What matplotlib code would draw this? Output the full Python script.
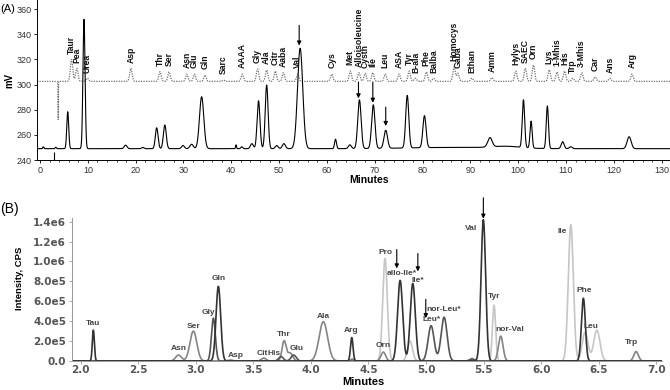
import matplotlib.pyplot as plt
import numpy as np
from matplotlib.ticker import MultipleLocator

plt.rcParams['font.family'] = 'Liberation Sans'

# ---------------- (A) ion-exchange chromatogram ----------------
# sample trace: retention time (min), apex (mV), sigma (min)
sample_rt = [0.7, 3.3, 5.8, 9.2, 17.9, 21.5, 24.4, 26.1, 29.9, 31.7, 33.8,
             41.0, 42.2, 44.3, 45.7, 47.4, 49.5, 51.0, 54.4, 61.8, 64.8,
             66.8, 69.7, 72.3, 76.8, 80.4, 94.1, 101.1, 102.7, 106.1, 109.3,
             111.0, 123.2]
sample_top = [250.5, 250.2, 278.4, 351.8, 251.8, 250.0, 265.6, 267.8, 251.5,
              252.5, 290.3, 252.0, 250.5, 253.0, 287.1, 299.6, 251.5, 253.0,
              328.8, 256.5, 252.0, 287.7, 283.7, 263.3, 290.8, 274.4, 256.4,
              286.9, 270.4, 282.9, 254.5, 250.5, 258.5]
sample_sig = [0.12, 0.12, 0.2, 0.22, 0.3, 0.25, 0.28, 0.3, 0.3, 0.35, 0.45,
              0.1, 0.2, 0.3, 0.3, 0.3, 0.3, 0.32, 0.55, 0.2, 0.3, 0.35, 0.35,
              0.37, 0.32, 0.33, 0.45, 0.25, 0.22, 0.23, 0.3, 0.3, 0.42]
sample_base = 249.0
drift_rt = [86.0, 97.5]
drift_h = [1.0, 1.5]
drift_sig = [9.0, 3.0]
inject_time = 2.9

# standard trace (dotted) with peak names
std_names = ['Taur', 'Pea', 'Urea', 'Asp', 'Thr', 'Ser', 'Asn', 'Glu', 'Gln',
             'Sarc', 'AAAA', 'Gly', 'Ala', 'Citr', 'Aaba', 'Val', 'Cys', 'Met',
             'Alloisoleucine', 'Cysth', 'Ile', 'Leu', 'ASA', 'Tyr', 'B-ala',
             'Phe', 'Balba', 'Homocys', 'Gaba', 'Ethan', 'Amm', 'Hylys', 'SAEC',
             'Orn', 'Lys', '1-Mhis', 'His', 'Trp', '3-Mhis', 'Car', 'Ans', 'Arg']
std_rt = [6.6, 7.7, 9.9, 19.0, 25.1, 27.0, 30.7, 32.3, 34.5, 38.4, 42.3, 45.5,
          47.4, 49.2, 50.9, 53.9, 61.0, 64.9, 66.7, 68.0, 69.6, 72.2, 75.1,
          77.2, 78.5, 80.8, 82.3, 86.6, 87.4, 90.3, 94.5, 99.5, 101.5, 103.2,
          106.5, 108.1, 109.7, 111.4, 113.3, 116.1, 119.2, 123.8]
std_top = [320, 312.9, 305, 312.9, 310.2, 310, 308.3, 308.3, 307.5, 303.5,
           308.3, 312.3, 311.5, 310.7, 309.4, 308.3, 308.3, 310.7, 309.4, 308.9,
           309.4, 308.3, 308.3, 310.7, 305, 310, 305, 314.1, 309, 305, 305.5,
           310.7, 312.9, 315.5, 311.7, 310, 310.7, 305, 309.4, 306, 305, 308.3]
std_base = 302.5
std_dip_rt = 3.8
std_dip_min = 272.0

# arrows in (A): x, start y, tip y
arrowsA = [(54.2, 347, 331), (66.6, 302, 289), (69.6, 302, 285.5), (72.3, 282, 267)]

# ---------------- (B) LC-MS/MS chromatogram ----------------
blk_rt = [2.110, 3.196, 4.355, 4.775, 4.885, 5.498, 6.367]
blk_top = [3.1e5, 7.5e5, 2.35e5, 8.1e5, 7.8e5, 1.42e6, 6.3e5]
blk_sig = [0.009, 0.02, 0.011, 0.022, 0.022, 0.02, 0.017]

dk_rt = [3.153, 3.74, 3.85, 5.044, 5.157, 5.40]
dk_top = [4.3e5, 0.45e5, 0.6e5, 3.55e5, 4.4e5, 0.15e5]
dk_sig = [0.017, 0.02, 0.022, 0.026, 0.026, 0.02]

mid_rt = [2.85, 2.979, 3.30, 3.59, 3.767, 3.82, 4.108, 4.36, 4.629, 5.40,
          5.649, 6.825]
mid_top = [0.6e5, 3.0e5, 0.1e5, 0.3e5, 2.0e5, 0.8e5, 3.95e5, 0.2e5, 0.9e5,
           0.25e5, 2.5e5, 0.95e5]
mid_sig = [0.025, 0.03, 0.02, 0.02, 0.018, 0.022, 0.037, 0.015, 0.02, 0.02,
           0.02, 0.02]

lt_rt = [4.644, 4.861, 5.591, 6.258, 6.382, 6.484]
lt_top = [1.03e6, 2.0e5, 5.6e5, 1.37e6, 2.9e5, 3.1e5]
lt_sig = [0.02, 0.022, 0.014, 0.022, 0.025, 0.027]

b_names = ['Tau', 'Asn', 'Ser', 'Gly', 'Gln', 'Asp', 'Cit', 'His', 'Thr', 'Glu',
           'Ala', 'Arg', 'Orn', 'Pro', 'allo-Ile*', 'Ile*', 'nor-Leu*', 'Leu*',
           'Val', 'Tyr', 'nor-Val', 'Ile', 'Phe', 'Leu', 'Trp']
b_lx = [2.11, 2.85, 2.979, 3.109, 3.202, 3.35, 3.575, 3.682, 3.767, 3.877, 4.108,
        4.349, 4.629, 4.644, 4.79, 4.928, 5.151, 5.05, 5.391, 5.594, 5.73, 6.18,
        6.376, 6.431, 6.782]
b_ly = [0.38e6, 0.13e6, 0.35e6, 0.485e6, 0.83e6, 0.053e6, 0.077e6, 0.077e6,
        0.27e6, 0.128e6, 0.445e6, 0.31e6, 0.154e6, 1.09e6, 0.88e6, 0.81e6,
        0.52e6, 0.42e6, 1.33e6, 0.646e6, 0.32e6, 1.30e6, 0.707e6, 0.35e6,
        0.184e6]
b_yticks = [0, 2e5, 4e5, 6e5, 8e5, 1e6, 1.2e6, 1.4e6]
b_yticklabels = ['0.0', '2.0e5', '4.0e5', '6.0e5', '8.0e5', '1.0e6', '1.2e6', '1.4e6']
# arrows in (B): x, start y, tip y
arrowsB = [(4.746, 1.12e6, 0.93e6), (4.929, 1.08e6, 0.90e6),
           (4.998, 0.62e6, 0.43e6), (5.498, 1.64e6, 1.43e6)]


def trace(x, rt, top, sig, base=0.0):
    y = np.full_like(x, base)
    for r, t, s in zip(rt, top, sig):
        y += (t - base) * np.exp(-0.5 * ((x - r) / s) ** 2)
    return y


fig = plt.figure(figsize=(6.7, 3.9), dpi=100)

# ---- panel A ----
axA = fig.add_axes([37 / 670, 1 - 160 / 390, 633 / 670, 160 / 390])
xa = np.linspace(-0.63, 131.75, 8000)
ya = trace(xa, sample_rt, sample_top, sample_sig, sample_base)
ya += trace(xa, drift_rt, drift_h, drift_sig)
ys = trace(xa, std_rt, std_top, [0.25] * len(std_rt), std_base)
ys += trace(xa, [std_dip_rt], [std_dip_min - std_base], [0.04])
axA.plot(xa, ys, color='#707070', lw=0.9, ls=(0, (1, 1)))
axA.plot(xa, ya, color='black', lw=0.8)
axA.vlines(inject_time, 240, 246, color='black', lw=0.8)

for name, r, t in zip(std_names, std_rt, std_top):
    axA.text(r, t + 4.5, name, rotation=90, ha='center', va='bottom',
             fontsize=6.2, fontweight='bold', color='#111111')
for x0, y0, y1 in arrowsA:
    axA.annotate('', xy=(x0, y1), xytext=(x0, y0),
                 arrowprops=dict(arrowstyle='-|>', color='black', lw=0.8,
                                 mutation_scale=6, shrinkA=0, shrinkB=0))

axA.set_xlim(-0.63, 131.75)
axA.set_ylim(240, 367.2)
axA.set_xticks(range(0, 131, 10))
axA.set_yticks(range(240, 361, 20))
axA.xaxis.set_minor_locator(MultipleLocator(2))
axA.tick_params(labelsize=6.5, labelcolor='#333333', length=2.5, width=0.6, pad=1.5)
axA.tick_params(which='minor', length=1.5, width=0.5)
axA.spines[['top', 'right']].set_visible(False)
axA.spines[['left', 'bottom']].set_linewidth(0.7)

fig.text(9 / 670, 1 - 80 / 390, 'mV', rotation=90, ha='center', va='center',
         fontsize=7, fontweight='bold')
fig.text(369 / 670, 1 - 180 / 390, 'Minutes', ha='center', va='center',
         fontsize=7.5, fontweight='bold')
fig.text(0.0, 1 - 9 / 390, '(A)', ha='left', va='center', fontsize=8)

# ---- panel B ----
axB = fig.add_axes([71.7 / 670, 1 - 361 / 390, (662 - 71.7) / 670, 143 / 390])
xb = np.linspace(1.922, 7.05, 5000)
axB.plot(xb, trace(xb, lt_rt, lt_top, lt_sig), color='#c6c6c6', lw=1.2)
axB.plot(xb, trace(xb, mid_rt, mid_top, mid_sig), color='#858585', lw=1.2)
axB.plot(xb, trace(xb, dk_rt, dk_top, dk_sig), color='#555555', lw=1.2)
axB.plot(xb, trace(xb, blk_rt, blk_top, blk_sig), color='#333333', lw=1.2)

for name, lx, ly in zip(b_names, b_lx, b_ly):
    axB.text(lx, ly, name, ha='center', va='center', fontsize=6,
             fontweight='bold', color='#444444')
for x0, y0, y1 in arrowsB:
    axB.annotate('', xy=(x0, y1), xytext=(x0, y0), annotation_clip=False,
                 arrowprops=dict(arrowstyle='-|>', color='black', lw=0.8,
                                 mutation_scale=6, shrinkA=0, shrinkB=0))

axB.set_xlim(1.922, 7.05)
axB.set_ylim(0, 1.437e6)
axB.set_xticks(np.arange(2.0, 7.01, 0.5))
axB.set_xticklabels([f'{v:.1f}' for v in np.arange(2.0, 7.01, 0.5)])
axB.set_yticks(b_yticks)
axB.set_yticklabels(b_yticklabels)
for lab in axB.get_xticklabels() + axB.get_yticklabels():
    lab.set_family('DejaVu Sans')
    lab.set_fontweight('bold')
axB.tick_params(labelsize=7.5, labelcolor='#555555', length=2, width=0.6,
                color='#999999', pad=2)
axB.tick_params(axis='x', pad=0.8)
axB.spines[['top', 'right']].set_visible(False)
axB.spines[['left', 'bottom']].set_color('#999999')
axB.spines[['left', 'bottom']].set_linewidth(0.7)

fig.text(20 / 670, 1 - 278 / 390, 'Intensity, CPS', rotation=90, ha='center',
         va='center', fontsize=6.8, fontweight='bold')
fig.text(363 / 670, 1 - 382 / 390, 'Minutes', ha='center', va='center',
         fontsize=8, fontweight='bold')
fig.text(0.0, 1 - 209 / 390, '(B)', ha='left', va='center', fontsize=10)

fig.savefig('out.png', dpi=100)
